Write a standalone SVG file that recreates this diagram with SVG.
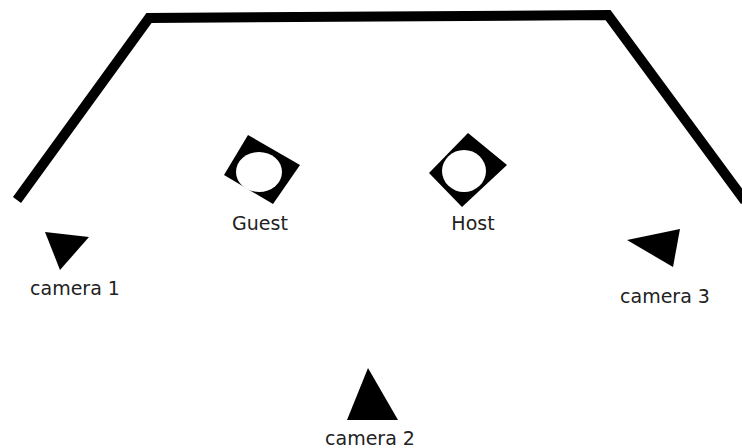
<svg xmlns="http://www.w3.org/2000/svg" width="742" height="448" viewBox="0 0 742 448">
<style>
.lbl{font-family:"DejaVu Sans",Verdana,sans-serif;font-size:19px;fill:#222;text-anchor:middle}
.wall{fill:none;stroke:#000;stroke-width:10;stroke-linejoin:miter}
.cam{fill:#000}
.seat{fill:#000}
.hole{fill:#fff}
</style>
<rect width="742" height="448" fill="#fff"/>
<g id="wall"><polyline class="wall" points="17,200 149,18 608,15 745,201"/></g>
<g id="guest">
<polygon class="seat" points="248,135 300,165 273,204 224,175"/>
<ellipse class="hole" cx="259" cy="172" rx="23" ry="20"/>
<text class="lbl" x="260" y="230">Guest</text>
</g>
<g id="host">
<polygon class="seat" points="468,133 507,165 462,207 429,173"/>
<ellipse class="hole" cx="464" cy="171" rx="22" ry="21"/>
<text class="lbl" x="473" y="230">Host</text>
</g>
<g id="camera1">
<polygon class="cam" points="45,232 89,237 60,270"/>
<text class="lbl" x="75" y="295">camera 1</text>
</g>
<g id="camera3">
<polygon class="cam" points="627,240 680,229 673,267"/>
<text class="lbl" x="665" y="303">camera 3</text>
</g>
<g id="camera2">
<polygon class="cam" points="368,368 398,420 347,420"/>
<text class="lbl" x="370" y="445">camera 2</text>
</g>
<g id="connectors"/>
</svg>
